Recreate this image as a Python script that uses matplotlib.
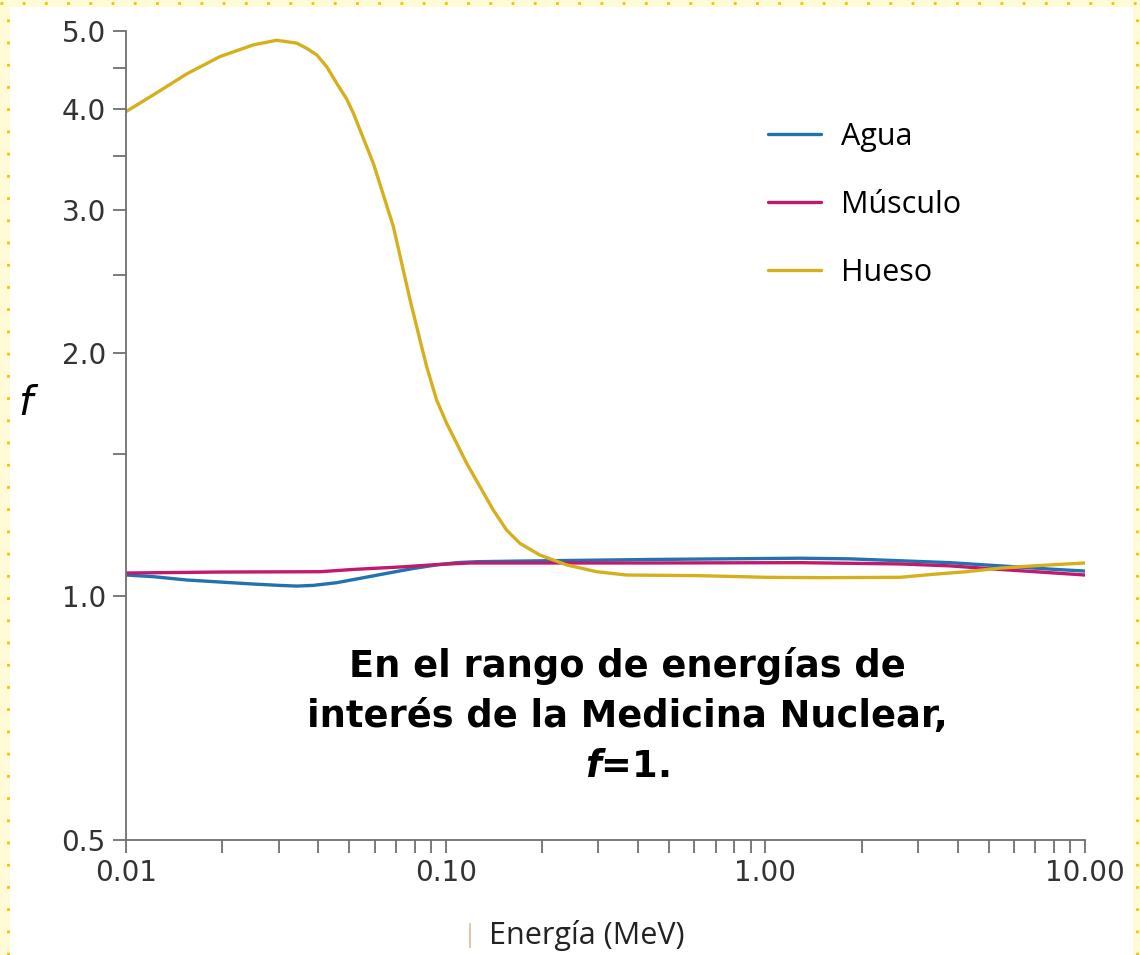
import matplotlib
matplotlib.use("Agg")
import matplotlib.pyplot as plt
from matplotlib.lines import Line2D
from matplotlib.patches import Rectangle
from matplotlib.ticker import FixedLocator, NullFormatter

# factor f vs photon energy (MeV) for three tissues
agua_e = [0.01, 0.01217, 0.01548, 0.01968, 0.02501, 0.0303, 0.0342, 0.0385, 0.0456, 0.054,
          0.0654, 0.0792, 0.0937, 0.1082, 0.125, 0.1708, 0.436, 1.283, 1.839, 2.64, 3.78,
          5.42, 7.77, 10.0]
agua_f = [1.063, 1.058, 1.048, 1.042, 1.036, 1.032, 1.030, 1.032, 1.040, 1.053,
          1.068, 1.083, 1.094, 1.101, 1.104, 1.106, 1.111, 1.115, 1.113, 1.107, 1.101,
          1.091, 1.081, 1.075]

musculo_e = [0.01, 0.0197, 0.0405, 0.0514, 0.0735, 0.0937, 0.119, 0.171, 0.436, 1.283,
             2.64, 3.78, 5.42, 7.77, 10.0]
musculo_f = [1.069, 1.072, 1.073, 1.080, 1.088, 1.095, 1.100, 1.100, 1.100, 1.101,
             1.097, 1.091, 1.080, 1.070, 1.063]

hueso_e = [0.01, 0.01217, 0.01548, 0.01968, 0.02501, 0.0296, 0.0342, 0.0367, 0.0395, 0.0425,
           0.0456, 0.049, 0.0514, 0.0594, 0.0686, 0.0773, 0.0831, 0.0872, 0.0937, 0.1007,
           0.1082, 0.1163, 0.128, 0.1409, 0.1551, 0.1708, 0.1972, 0.239, 0.2967, 0.367,
           0.624, 1.01, 1.48, 2.64, 3.34, 4.25, 5.42, 6.88, 10.0]
hueso_f = [3.975, 4.168, 4.425, 4.649, 4.806, 4.87, 4.83, 4.761, 4.672, 4.514,
           4.31, 4.121, 3.96, 3.43, 2.866, 2.33, 2.075, 1.924, 1.749, 1.637,
           1.547, 1.461, 1.367, 1.279, 1.208, 1.163, 1.125, 1.094, 1.073, 1.063,
           1.061, 1.056, 1.055, 1.056, 1.065, 1.073, 1.084, 1.091, 1.100]

x_major = [0.01, 0.1, 1.0, 10.0]
x_labels = ["0.01", "0.10", "1.00", "10.00"]
y_major = [0.5, 1.0, 2.0, 3.0, 4.0, 5.0]
y_labels = ["0.5", "1.0", "2.0", "3.0", "4.0", "5.0"]
y_minor = [1.5, 2.5, 3.5, 4.5]

plt.rcParams["mathtext.fontset"] = "custom"
plt.rcParams["mathtext.it"] = "DejaVu Sans:italic:bold"

fig = plt.figure(figsize=(11.4, 9.55), dpi=100, facecolor="#fffbd6")

# white sheet with a dotted yellow margin
fig.patches.append(Rectangle((10 / 1140, 0), 1123 / 1140, 948 / 955, transform=fig.transFigure,
                             facecolor="white", edgecolor="none", zorder=-2))
dots = dict(transform=fig.transFigure, color="#f2c200", lw=2, linestyle=(0, (1, 7)), zorder=-1)
fig.lines.append(Line2D([8 / 1140, 8 / 1140], [0, 1], **dots))
fig.lines.append(Line2D([0, 1], [952 / 955, 952 / 955], **dots))
fig.lines.append(Line2D([1137 / 1140, 1137 / 1140], [0, 1], **dots))

ax = fig.add_axes([126 / 1140, 115 / 955, 959 / 1140, 809 / 955])
ax.set_zorder(1)
ax.set_facecolor("none")

line_kw = dict(lw=2.4, solid_joinstyle="round", solid_capstyle="round")
ax.plot(agua_e, agua_f, color="#2272b0", label="Agua", **line_kw)
ax.plot(musculo_e, musculo_f, color="#c2186e", label="Músculo", **line_kw)
ax.plot(hueso_e, hueso_f, color="#d6b01c", label="Hueso", **line_kw)

ax.set_xscale("log")
ax.set_yscale("log")
ax.set_xlim(0.01, 10)
ax.set_ylim(0.5, 5.0)

ax.xaxis.set_major_locator(FixedLocator(x_major))
ax.set_xticklabels(x_labels)
ax.yaxis.set_major_locator(FixedLocator(y_major))
ax.set_yticklabels(y_labels)
ax.yaxis.set_minor_locator(FixedLocator(y_minor))
ax.yaxis.set_minor_formatter(NullFormatter())
ax.xaxis.set_minor_formatter(NullFormatter())

for side in ["top", "right"]:
    ax.spines[side].set_visible(False)
for side in ["left", "bottom"]:
    ax.spines[side].set_color("#707070")
    ax.spines[side].set_linewidth(1.3)

ax.tick_params(which="both", direction="out", length=9.5, width=1.3, color="#707070",
               labelsize=20, labelcolor="#333333")
ax.tick_params(axis="y", which="both", pad=5)
ax.tick_params(axis="x", which="both", pad=4)

ax.legend(loc="upper left", bbox_to_anchor=(0.669, 0.8875), frameon=False,
          handlelength=1.76, handletextpad=0.65, labelspacing=1.24, borderpad=0,
          borderaxespad=0, prop={"family": "Open Sans", "size": 22})

ax.text(0.523, 0.153, "En el rango de energías de\ninterés de la Medicina Nuclear,\n$f$=1.",
        transform=ax.transAxes, ha="center", va="center", fontsize=26.5, fontweight="bold",
        family="DejaVu Sans", linespacing=1.45, color="black")

fig.text(25 / 1140, (955 - 403) / 955, "f", fontsize=29, style="italic", family="DejaVu Sans",
         ha="center", va="center", color="black")
fig.text(470 / 1140, (955 - 935) / 955, "|", fontsize=17, color="#e0c8a8", ha="center", va="center")
fig.text(587 / 1140, (955 - 935) / 955, "Energía (MeV)", fontsize=22, family="Open Sans",
         color="#222222", ha="center", va="center")

fig.savefig("out.png", dpi=100, facecolor=fig.get_facecolor())
